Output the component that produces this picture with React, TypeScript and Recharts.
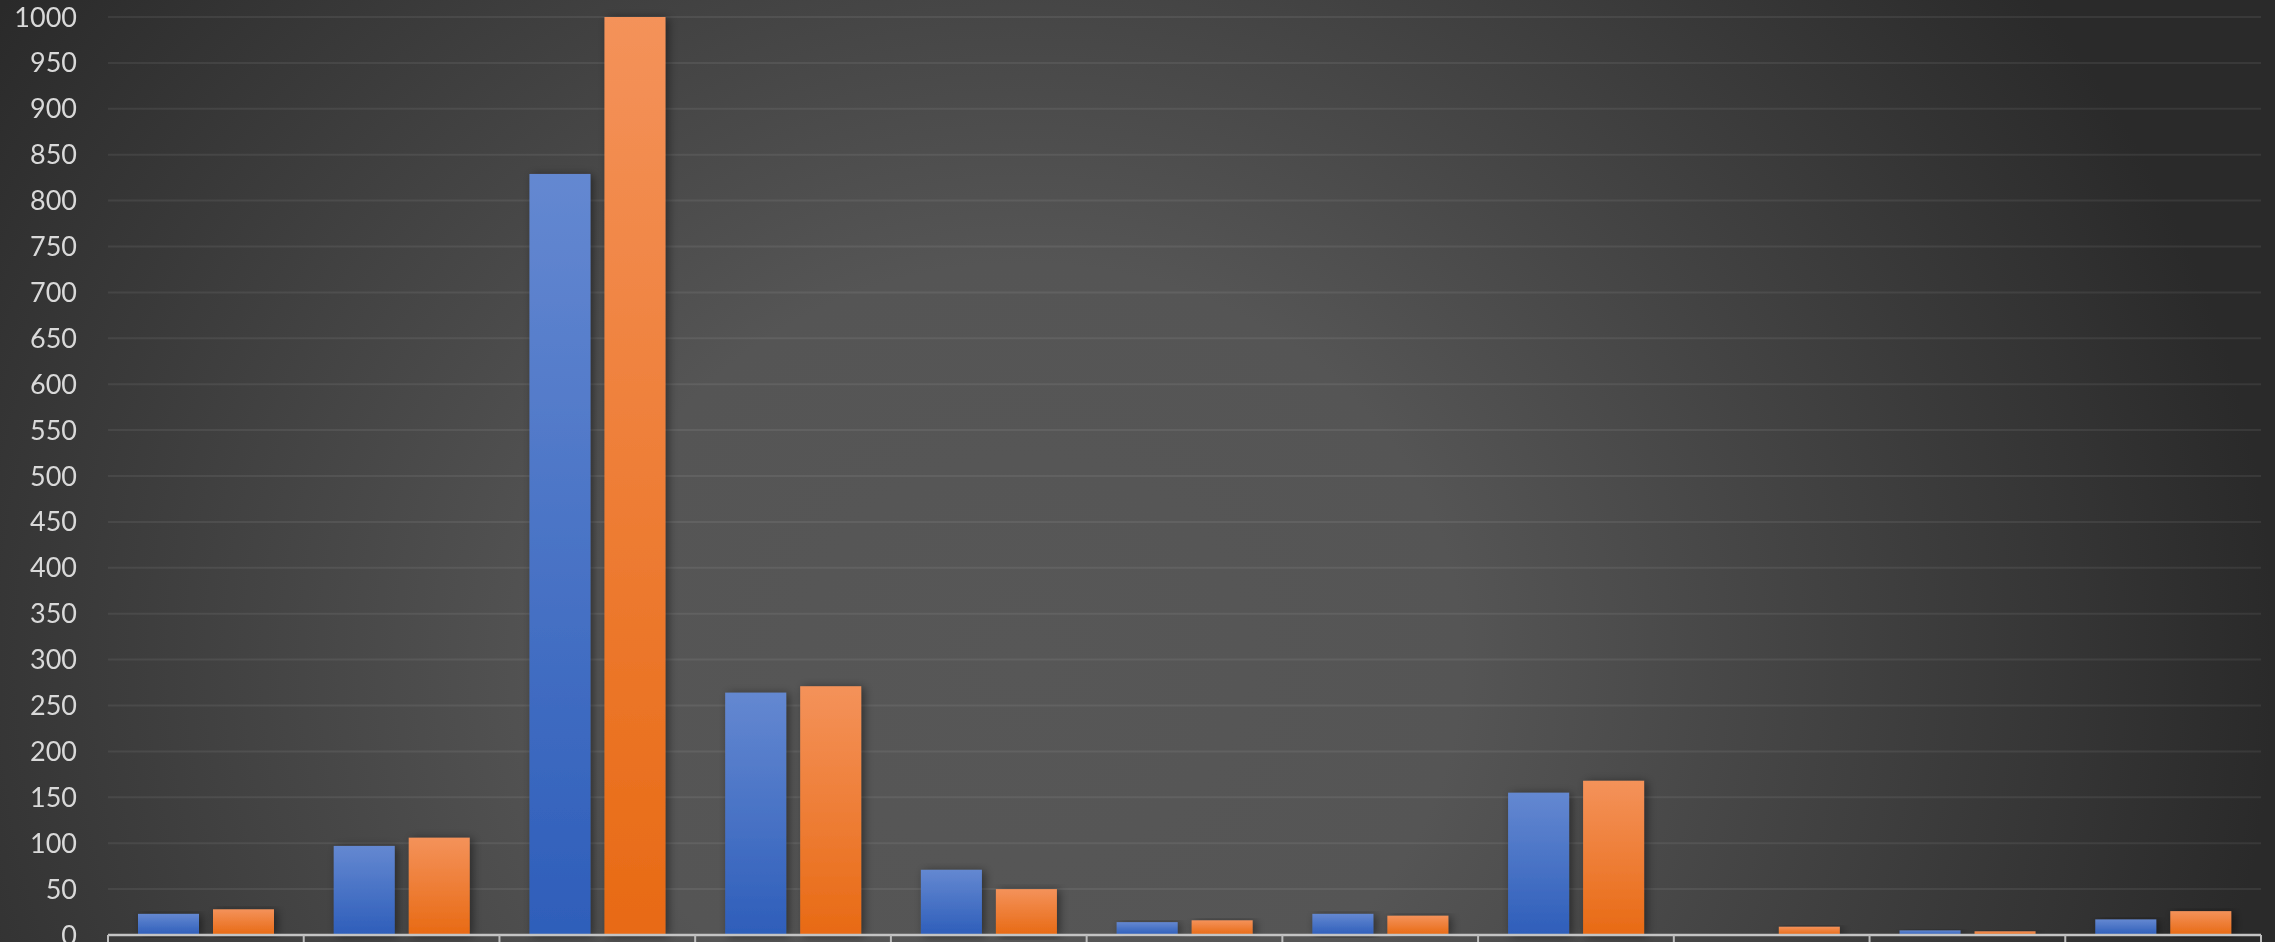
import React from "react";
import { BarChart, Bar, XAxis, YAxis, CartesianGrid } from "recharts";

const categories = ["1", "2", "3", "4", "5", "6", "7", "8", "9", "10", "11"];
const seriesA = [23, 97, 829, 264, 71, 14, 23, 155, 1, 5, 17];
const seriesB = [28, 106, 1000, 271, 50, 16, 21, 168, 9, 4, 26];
const yTicks = [0, 50, 100, 150, 200, 250, 300, 350, 400, 450, 500, 550, 600, 650, 700, 750, 800, 850, 900, 950, 1000];

const data = categories.map((c, i) => ({ name: c, a: seriesA[i], b: seriesB[i] }));

const W = 2275;
const H = 942;
const MARGIN = { top: 17, right: 14, bottom: 0, left: 0 };
const Y_W = 108;
const PLOT_W = W - MARGIN.left - MARGIN.right - Y_W;
const BAND = PLOT_W / categories.length;

const XTick = (props: any) => {
  const { x, y, index } = props;
  const lines = [x - BAND / 2];
  if (index === categories.length - 1) lines.push(x + BAND / 2);
  return (
    <g>
      {lines.map((lx, k) => (
        <line key={k} x1={lx} x2={lx} y1={y} y2={y + 9} stroke="#bdbdbd" strokeWidth={2} />
      ))}
    </g>
  );
};

const makeShape = (fillId: string) => (props: any) => {
  const { x, y, width, height } = props;
  if (!height || height <= 0) return <g />;
  return (
    <rect
      x={x}
      y={y}
      width={width}
      height={height}
      fill={`url(#${fillId})`}
      filter="url(#barShadow)"
    />
  );
};

export default function App() {
  return (
    <div
      style={{
        position: "fixed",
        left: 0,
        top: 0,
        width: W,
        height: H,
        background:
          "radial-gradient(ellipse 55% 120% at 45% 70%, #575757 0%, #555555 35%, #2a2a2a 100%)",
      }}
    >
      <BarChart width={W} height={H} data={data} margin={MARGIN} barSize={61} barGap={14}>
        <defs>
          <linearGradient id="gradA" x1="0" y1="0" x2="0" y2="1">
            <stop offset="0%" stopColor="#6488d1" />
            <stop offset="100%" stopColor="#2e5eba" />
          </linearGradient>
          <linearGradient id="gradB" x1="0" y1="0" x2="0" y2="1">
            <stop offset="0%" stopColor="#f4925a" />
            <stop offset="100%" stopColor="#e86a14" />
          </linearGradient>
          <filter id="barShadow" x="-30%" y="-10%" width="160%" height="120%">
            <feDropShadow dx="3" dy="1" stdDeviation="5" floodColor="#000" floodOpacity="0.45" />
          </filter>
        </defs>
        <CartesianGrid vertical={false} stroke="rgba(255,255,255,0.07)" strokeWidth={2} />
        <XAxis
          dataKey="name"
          height={H - MARGIN.top - 918}
          axisLine={{ stroke: "#c4c4c4", strokeWidth: 2.5 }}
          tickLine={false}
          tickSize={0}
          tickMargin={0}
          tick={<XTick />}
          interval={0}
        />
        <YAxis
          width={Y_W}
          domain={[0, 1000]}
          ticks={yTicks}
          interval={0}
          axisLine={false}
          tickLine={false}
          tickSize={0}
          tickMargin={31}
          tick={{ fill: "#d9d9d9", fontSize: 27, fontFamily: "Lato" }}
        />
        <Bar dataKey="a" isAnimationActive={false} shape={makeShape("gradA")} />
        <Bar dataKey="b" isAnimationActive={false} shape={makeShape("gradB")} />
      </BarChart>
    </div>
  );
}
